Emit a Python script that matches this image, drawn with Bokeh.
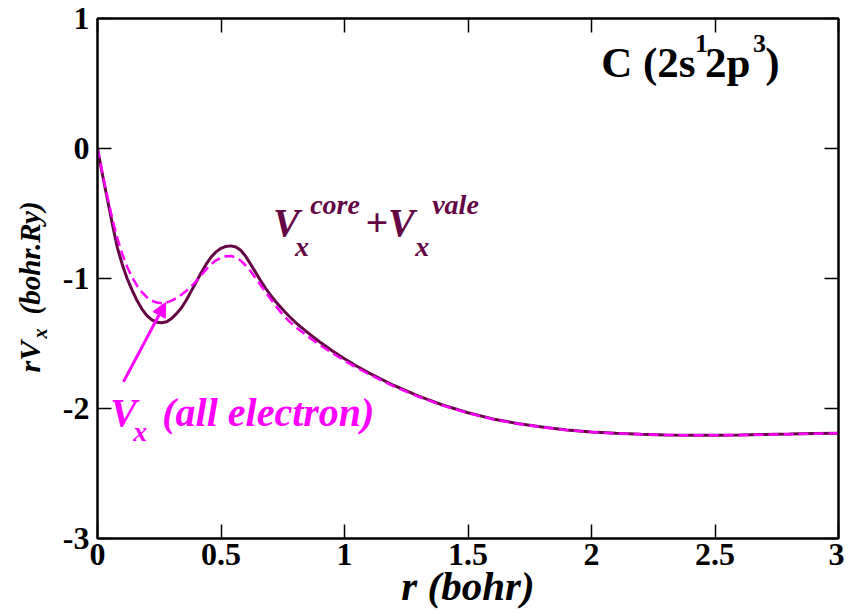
import math
from bokeh.plotting import figure
from bokeh.layouts import row
from bokeh.models import (LinearAxis, FixedTicker, CustomJSTickFormatter, Label,
                          Arrow, NormalHead, Range1d)
from bokeh.embed import file_html
from bokeh.resources import INLINE

# ---------------- data ----------------
r = [0.00, 0.02, 0.04, 0.06, 0.08, 0.10, 0.12, 0.14, 0.16, 0.18, 0.20, 0.22,
     0.24, 0.26, 0.28, 0.30, 0.32, 0.34, 0.36, 0.38, 0.40, 0.42, 0.44, 0.46,
     0.48, 0.50, 0.52, 0.54, 0.56, 0.58, 0.60, 0.62, 0.64, 0.66, 0.68, 0.70,
     0.72, 0.74, 0.76, 0.78, 0.80, 0.82, 0.86, 0.90, 0.95, 1.00, 1.05, 1.10,
     1.20, 1.30, 1.40, 1.50, 1.60, 1.70, 1.80, 1.90, 2.00, 2.10, 2.20, 2.30,
     2.40, 2.50, 2.60, 2.70, 2.80, 2.90, 3.00]

v_core_vale = [0.0, -0.20, -0.39, -0.58, -0.76, -0.89, -1.00, -1.09, -1.17,
               -1.235, -1.285, -1.318, -1.336, -1.340, -1.332, -1.308, -1.27,
               -1.225, -1.165, -1.095, -1.025, -0.955, -0.89, -0.835, -0.795,
               -0.768, -0.753, -0.749, -0.758, -0.783, -0.83, -0.89, -0.953,
               -1.015, -1.073, -1.127, -1.175, -1.218, -1.26, -1.298, -1.335,
               -1.368, -1.43, -1.488, -1.555, -1.617, -1.675, -1.728, -1.823,
               -1.905, -1.975, -2.033, -2.08, -2.115, -2.143, -2.165, -2.18,
               -2.19, -2.198, -2.203, -2.205, -2.205, -2.203, -2.20, -2.197,
               -2.193, -2.19]

v_all_electron = [0.0, -0.19, -0.37, -0.54, -0.69, -0.81, -0.91, -0.99, -1.055,
                  -1.105, -1.145, -1.17, -1.185, -1.19, -1.185, -1.17, -1.15,
                  -1.125, -1.095, -1.06, -1.02, -0.975, -0.93, -0.89, -0.86,
                  -0.84, -0.829, -0.827, -0.838, -0.862, -0.90, -0.945, -0.997,
                  -1.05, -1.103, -1.155, -1.207, -1.255, -1.297, -1.335, -1.37,
                  -1.40, -1.457, -1.51, -1.573, -1.632, -1.687, -1.738, -1.83,
                  -1.91, -1.978, -2.035, -2.082, -2.117, -2.144, -2.166, -2.181,
                  -2.191, -2.199, -2.204, -2.206, -2.206, -2.204, -2.201, -2.198,
                  -2.194, -2.19]

x_ticks = [0, 0.5, 1, 1.5, 2, 2.5, 3]
x_tick_labels = ["0", "0.5", "1", "1.5", "2", "2.5", "3"]
y_ticks = [-3, -2, -1, 0, 1]
y_tick_labels = ["-3", "-2", "-1", "0", "1"]

MAROON = "#650545"
MAGENTA = "#ff00ff"
FONT = "Liberation Serif"

H = 610
TOP = 18
FRAME_H = 520
LEFT_W = 57

p = figure(frame_width=741, frame_height=FRAME_H,
           x_range=Range1d(0, 3), y_range=Range1d(-3, 1),
           output_backend="svg", toolbar_location=None,
           min_border_left=97 - LEFT_W, min_border_right=6, min_border_top=TOP,
           min_border_bottom=H - TOP - FRAME_H)
p.xgrid.visible = False
p.ygrid.visible = False
p.outline_line_color = "black"
p.outline_line_width = 2
p.background_fill_color = "white"
p.border_fill_color = "white"

def style_axis(ax, ticks, labels=None):
    ax.ticker = FixedTicker(ticks=ticks)
    ax.major_tick_in = 14
    ax.major_tick_out = 0
    ax.minor_tick_line_color = None
    ax.major_tick_line_width = 1.5
    ax.major_tick_line_color = "black"
    ax.axis_line_width = 2
    ax.axis_line_color = "black"
    if labels is not None:
        ax.major_label_overrides = {t: l for t, l in zip(ticks, labels)}
        ax.major_label_text_font = FONT
        ax.major_label_text_font_style = "bold"
        ax.major_label_text_font_size = "32px"
        ax.major_label_text_color = "black"
    else:
        ax.formatter = CustomJSTickFormatter(code="return ''")
        ax.major_label_standoff = 0

style_axis(p.xaxis[0], x_ticks, x_tick_labels)
style_axis(p.yaxis[0], y_ticks, y_tick_labels)
p.xaxis[0].major_label_standoff = 5
p.yaxis[0].major_label_standoff = 8
p.xaxis[0].axis_label = "r (bohr)"
p.xaxis[0].axis_label_text_font = FONT
p.xaxis[0].axis_label_text_font_style = "bold italic"
p.xaxis[0].axis_label_text_font_size = "41px"
p.xaxis[0].axis_label_text_color = "black"
p.xaxis[0].axis_label_standoff = -5

top = LinearAxis()
style_axis(top, x_ticks)
p.add_layout(top, "above")
right = LinearAxis()
style_axis(right, y_ticks)
p.add_layout(right, "right")

p.line(r, v_core_vale, line_color=MAROON, line_width=3)
p.line(r, v_all_electron, line_color=MAGENTA, line_width=2.5, line_dash="10 5")

p.add_layout(Arrow(x_start=0.105, y_start=-1.795, x_end=0.276, y_end=-1.185,
                   line_color=MAGENTA, line_width=3,
                   end=NormalHead(size=14, fill_color=MAGENTA, line_color=MAGENTA)))

def lab(fig, text, x, y, size, color="black", style="bold italic", angle=0.0):
    fig.add_layout(Label(x=x, y=y, text=text, text_font=FONT, text_font_style=style,
                         text_font_size=size, text_color=color, angle=angle,
                         text_align="left", text_baseline="alphabetic"))

# title C (2s^1 2p^3)
lab(p, "C (2s", 2.039, 0.665, "43px", style="bold")
lab(p, "1", 2.419, 0.81, "26px", style="bold")
lab(p, "2p", 2.46, 0.665, "43px", style="bold")
lab(p, "3", 2.654, 0.81, "26px", style="bold")
lab(p, ")", 2.703, 0.665, "43px", style="bold")

# V_x^core + V_x^vale
lab(p, "V", 0.711, -0.567, "40px", MAROON)
lab(p, "x", 0.80, -0.75, "28px", MAROON)
lab(p, "core", 0.861, -0.428, "28px", MAROON)
lab(p, "+V", 1.084, -0.567, "40px", MAROON)
lab(p, "x", 1.286, -0.75, "28px", MAROON)
lab(p, "vale", 1.355, -0.428, "28px", MAROON)

# V_x (all electron)
lab(p, "V", 0.052, -2.03, "40px", MAGENTA)
lab(p, "x", 0.145, -2.175, "28px", MAGENTA)
lab(p, "(all electron)", 0.262, -2.03, "40px", MAGENTA)

# left strip holding the rotated y-axis label rV_x (bohr.Ry); coordinates in pixels
q = figure(frame_width=LEFT_W, frame_height=H, x_range=Range1d(0, LEFT_W),
           y_range=Range1d(H, 0), output_backend="svg", toolbar_location=None,
           min_border=0, min_border_left=0, min_border_right=0,
           min_border_top=0, min_border_bottom=0)
q.axis.visible = False
q.grid.visible = False
q.outline_line_color = None
q.background_fill_color = "white"
q.border_fill_color = "white"
lab(q, "rV", 29, 354, "30px", angle=math.pi / 2)
lab(q, "x", 39, 320, "20px", angle=math.pi / 2)
lab(q, "(bohr.Ry)", 29, 296, "29px", angle=math.pi / 2)

layout = row(q, p, spacing=0)
open("out.html", "w").write(file_html(layout, INLINE))
